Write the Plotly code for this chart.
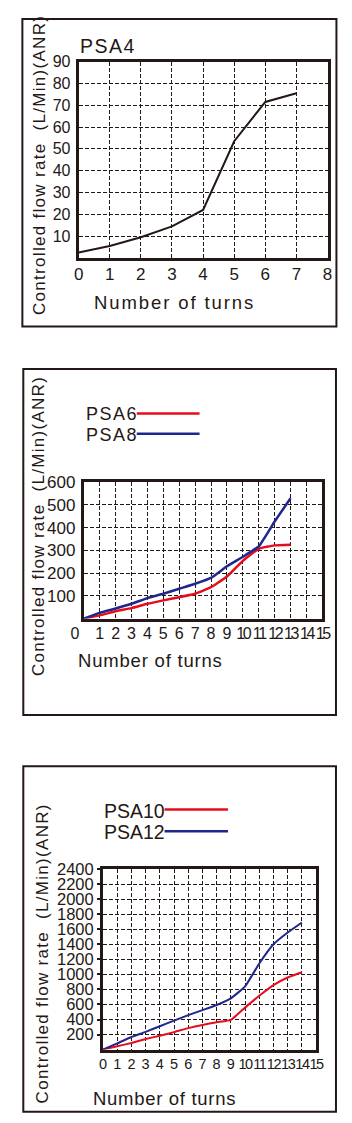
import plotly.graph_objects as go

W, H = 352, 1123

# ---------------- data ----------------
psa4_turns = [0, 1, 2, 3, 4, 5, 6, 7]
psa4_flow = [2.5, 5.5, 9.5, 14.5, 22, 53.5, 71.5, 75.5]

turns_p2 = list(range(14))
psa6_flow = [0, 14, 32, 46, 65, 80, 94, 109, 138, 185, 254, 307, 322, 325]
psa8_flow = [0, 25, 44, 65, 90, 109, 131, 153, 179, 230, 272, 318, 427, 529]

turns_p3 = list(range(15))
psa10_flow = [0, 44, 88, 140, 184, 232, 285, 328, 363, 395, 558, 716, 858, 958, 1028]
psa12_flow = [0, 82, 168, 236, 311, 385, 458, 525, 593, 682, 840, 1145, 1400, 1556, 1690]

p1_xticks = list(range(0, 9))
p1_yticks = list(range(10, 91, 10))
p2_xticks = list(range(0, 16))
p2_yticks = list(range(100, 601, 100))
p3_xticks = list(range(0, 16))
p3_yticks = list(range(200, 2401, 200))

y_title = "Controlled flow rate\u00a0\u00a0(L/Min)(ANR)"
x_title = "Number of turns"

RED = "#e60c1c"
BLUE = "#1f268c"
BLACK = "#231815"
FONT = "Liberation Sans, Arial, sans-serif"


def fx(p):
    return p / W


def fy(p):
    return 1 - p / H


def spaced(txt, ls):
    return f'<span style="letter-spacing:{ls}px">{txt}</span>'


fig = go.Figure()

# ---------------- traces ----------------
fig.add_trace(go.Scatter(x=psa4_turns, y=psa4_flow, mode="lines",
                         line=dict(color=BLACK, width=2), name="PSA4",
                         xaxis="x", yaxis="y"))
fig.add_trace(go.Scatter(x=turns_p2, y=psa6_flow, mode="lines",
                         line=dict(color=RED, width=2.5, shape="spline", smoothing=0.4),
                         name="PSA6", xaxis="x2", yaxis="y2"))
fig.add_trace(go.Scatter(x=turns_p2, y=psa8_flow, mode="lines",
                         line=dict(color=BLUE, width=2.5, shape="spline", smoothing=0.4),
                         name="PSA8", xaxis="x2", yaxis="y2"))
fig.add_trace(go.Scatter(x=turns_p3, y=psa10_flow, mode="lines",
                         line=dict(color=RED, width=2, shape="spline", smoothing=0.4),
                         name="PSA10", xaxis="x3", yaxis="y3"))
fig.add_trace(go.Scatter(x=turns_p3, y=psa12_flow, mode="lines",
                         line=dict(color=BLUE, width=2, shape="spline", smoothing=0.4),
                         name="PSA12", xaxis="x3", yaxis="y3"))


def axis(domain, rng, tickvals, ticktext, size, anchor, standoff, ticks=""):
    return dict(domain=domain, range=rng, tickmode="array", tickvals=tickvals,
                ticktext=ticktext, tickfont=dict(family=FONT, size=size, color=BLACK),
                tickangle=0,
                showgrid=True, gridcolor=BLACK, gridwidth=1, griddash="4px,2px",
                showline=True, linecolor=BLACK, linewidth=3, mirror=True,
                zeroline=False, anchor=anchor, ticks=ticks, ticklen=3 if ticks else 0,
                tickwidth=1.5, tickcolor=BLACK, ticklabelstandoff=standoff,
                fixedrange=True)


def cond(v, ls):
    return f'<span style="letter-spacing:{ls}px">{v}</span>'


p2_xtext = ["0\u00a0\u00a0\u00a0\u00a0"] + [str(v) if v < 10 else cond(v, -2.4) for v in p2_xticks[1:]]
p3_xtext = [str(v) if v < 10 else cond(v, -1.4) for v in p3_xticks]

fig.update_layout(
    xaxis=axis([fx(70), fx(335.5)], [0, 8], p1_xticks, [str(v) for v in p1_xticks], 17, "y", -1),
    yaxis=axis([fy(251), fy(53)], [0, 90], p1_yticks, [str(v) for v in p1_yticks], 16, "x", 2),
    xaxis2=axis([fx(75.5), fx(330)], [0, 15], p2_xticks, p2_xtext, 16, "y2", -2),
    yaxis2=axis([fy(614.5), fy(477)], [0, 600], p2_yticks, [str(v) for v in p2_yticks], 17, "x2", 2),
    xaxis3=axis([fx(96), fx(323.3)], [0, 15], p3_xticks, p3_xtext, 14.5, "y3", -1),
    yaxis3=axis([fy(1049), fy(867)], [0, 2400], p3_yticks, [str(v) for v in p3_yticks], 16.5, "x3", 0, ticks="outside"),
)

# ---------------- text ----------------
ann = []


def add_text(txt, x, y, size, xanchor="center", yanchor="middle", angle=0):
    ann.append(dict(text=txt, x=fx(x), y=fy(y), xref="paper", yref="paper",
                    showarrow=False, xanchor=xanchor, yanchor=yanchor, textangle=angle,
                    font=dict(family=FONT, size=size, color=BLACK)))


# panel 1
add_text(spaced("PSA4", 1.5), 69, 37, 19.5, xanchor="left")
add_text(spaced(y_title, 1.3), 27.5, 157.5, 17, angle=-90)
add_text(spaced(x_title, 1.9), 172, 296, 18.5)
# panel 2
add_text(spaced("PSA6", 1.5), 76, 408, 18, xanchor="left")
add_text(spaced("PSA8", 1.5), 76, 429, 18, xanchor="left")
add_text(spaced(y_title, 1.3), 28, 521, 17, angle=-90)
add_text(spaced(x_title, 0.8), 147, 657, 18.5)
# panel 3
add_text("PSA10", 95, 808, 19.5, xanchor="left")
add_text("PSA12", 95, 830, 19.5, xanchor="left")
add_text(spaced(y_title, 1.3), 31, 952, 17, angle=-90)
add_text(spaced(x_title, 0.7), 161.5, 1098, 18.5)

shapes = []
# outer boxes
for (x0, y0, x1, y1) in [(10, 10, 345, 320), (11, 363, 344.5, 711.7), (11, 763.3, 344.5, 1111.7)]:
    shapes.append(dict(type="rect", xref="paper", yref="paper", x0=fx(x0), x1=fx(x1),
                       y0=fy(y1), y1=fy(y0), line=dict(color=BLACK, width=2)))
# legend keys
for (x0, x1, y, c, w) in [(132, 199, 407.7, RED, 2.5), (132, 199, 428.3, BLUE, 2.5),
                          (161.7, 229.3, 807, RED, 2.5), (161.7, 229.3, 829, BLUE, 2.5)]:
    shapes.append(dict(type="line", xref="paper", yref="paper", x0=fx(x0), x1=fx(x1),
                       y0=fy(y), y1=fy(y), line=dict(color=c, width=w)))

fig.update_layout(
    width=W, height=H, margin=dict(l=0, r=0, t=0, b=0),
    paper_bgcolor="white", plot_bgcolor="white", showlegend=False,
    annotations=ann, shapes=shapes,
)

fig.write_html("out.html", config={"displayModeBar": False},
               post_script="document.body.style.margin='0';")
